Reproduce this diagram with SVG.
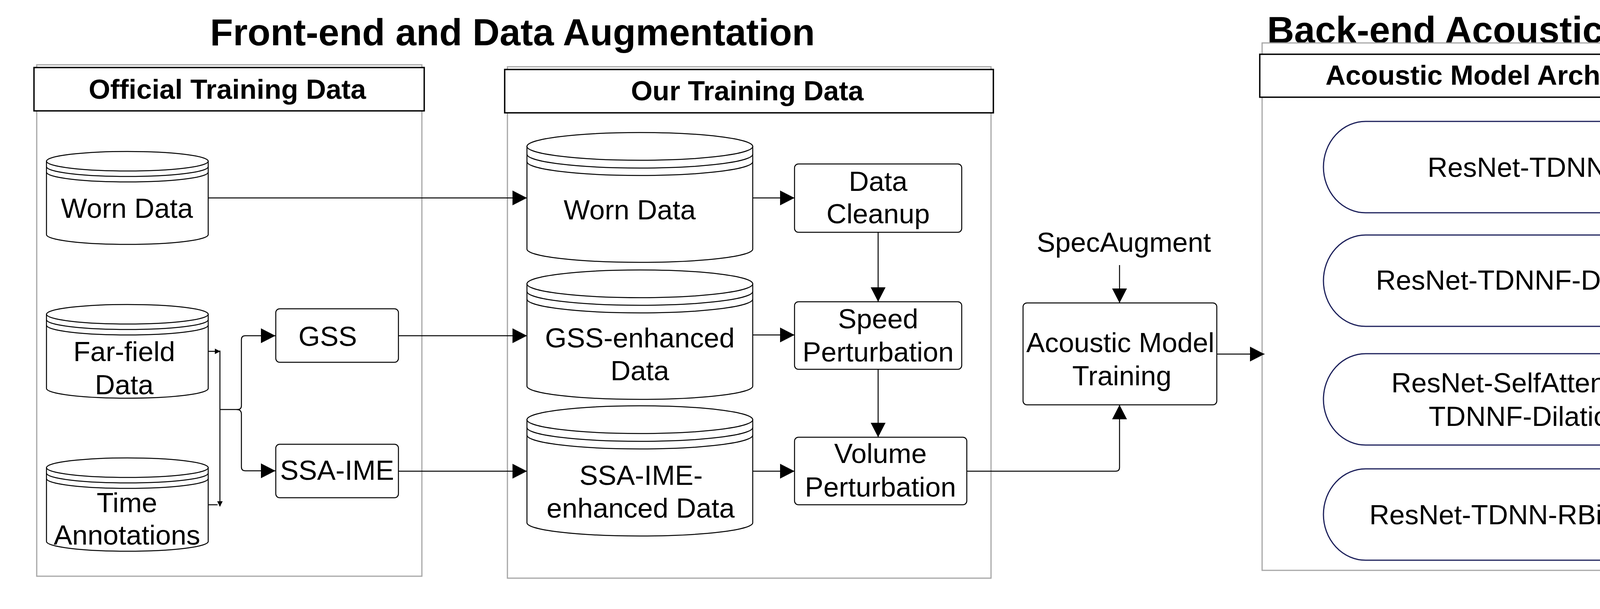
<svg xmlns="http://www.w3.org/2000/svg" width="4660" height="1560" viewBox="0 0 4660 1560">
<style>
.bg{fill:#ffffff}
.panel{fill:none;stroke:#a6a6a6;stroke-width:3}
.hdr{fill:#ffffff;stroke:#000;stroke-width:3.5}
.box{fill:#ffffff;stroke:#000;stroke-width:2.5}
.cyl{fill:#ffffff;stroke:#000;stroke-width:2.5}
.cl{fill:none;stroke:#000;stroke-width:2.5}
.stad{fill:#ffffff;stroke:#1b1f5a;stroke-width:3}
.edge{fill:none;stroke:#000;stroke-width:2.5}
.title{font-family:"Liberation Sans",Arial,sans-serif;font-weight:bold;font-size:96px;fill:#000;text-anchor:middle}
.htxt{font-family:"Liberation Sans",Arial,sans-serif;font-weight:bold;font-size:71px;fill:#000;text-anchor:middle}
.txt{font-family:"Liberation Sans",Arial,sans-serif;font-size:71px;fill:#000;text-anchor:middle}
</style>
<defs>
<marker id="big" markerUnits="userSpaceOnUse" markerWidth="38" markerHeight="40" refX="37" refY="19" orient="auto">
<path d="M0,0 L37,19 L0,38 Z" fill="#000"/>
</marker>
<marker id="small" markerUnits="userSpaceOnUse" markerWidth="16" markerHeight="16" refX="13" refY="7" orient="auto">
<path d="M0,0 L14,7 L0,14 Z" fill="#000"/>
</marker>
</defs>
<rect class="bg" x="0" y="0" width="4660" height="1560"/>

<g id="titles">
<text class="title" x="1312" y="116">Front-end and Data Augmentation</text>
<text class="title" x="3898" y="110">Back-end Acoustic Modeling</text>
</g>

<g id="panel-official">
<rect class="panel" x="94" y="166" width="986" height="1310"/>
<rect class="hdr" x="87" y="173" width="999" height="111"/>
<text class="htxt" x="582" y="253">Official Training Data</text>
</g>
<g id="panel-our">
<rect class="panel" x="1299" y="171" width="1238" height="1310"/>
<rect class="hdr" x="1292" y="178" width="1251" height="111"/>
<text class="htxt" x="1913" y="257">Our Training Data</text>
</g>
<g id="panel-backend">
<rect class="panel" x="3231" y="110" width="1331" height="1351"/>
<rect class="hdr" x="3225" y="139" width="1344" height="110"/>
<text class="htxt" x="3893" y="217">Acoustic Model Architectures</text>
</g>

<g id="connectors">
<path class="edge" d="M533,507 H1349" marker-end="url(#big)"/>
<path class="edge" d="M533,900 H563" marker-end="url(#small)"/>
<path class="edge" d="M563,898 V1297" marker-end="url(#small)"/>
<path class="edge" d="M533,1293 H557"/>
<path class="edge" d="M563,1049 H608 Q618,1049 618,1039 V870 Q618,860 628,860 H705" marker-end="url(#big)"/>
<path class="edge" d="M606,1049 Q618,1049 618,1061 V1196 Q618,1206 628,1206 H705" marker-end="url(#big)"/>
<path class="edge" d="M1020,860 H1349" marker-end="url(#big)"/>
<path class="edge" d="M1020,1207 H1349" marker-end="url(#big)"/>
<path class="edge" d="M1927,507 H2034" marker-end="url(#big)"/>
<path class="edge" d="M1927,858 H2034" marker-end="url(#big)"/>
<path class="edge" d="M1927,1207 H2034" marker-end="url(#big)"/>
<path class="edge" d="M2248,595 V773" marker-end="url(#big)"/>
<path class="edge" d="M2248,946 V1120" marker-end="url(#big)"/>
<path class="edge" d="M2475,1207 H2856 Q2866,1207 2866,1197 V1037" marker-end="url(#big)"/>
<path class="edge" d="M2866,679 V776" marker-end="url(#big)"/>
<path class="edge" d="M3115,907 H3237" marker-end="url(#big)"/>
</g>

<g id="worn-official">
<path class="cyl" d="M119,413 V601 A207,25 0 0 0 533,601 V413 Z"/>
<ellipse class="cyl" cx="326" cy="413" rx="207" ry="25"/>
<path class="cl" d="M119,427 A207,25 0 0 0 533,427 M119,441 A207,25 0 0 0 533,441"/>
<text class="txt" x="325" y="558">Worn Data</text>
</g>
<g id="farfield">
<path class="cyl" d="M119,805 V995 A207,25 0 0 0 533,995 V805 Z"/>
<ellipse class="cyl" cx="326" cy="805" rx="207" ry="25"/>
<path class="cl" d="M119,819 A207,25 0 0 0 533,819 M119,833 A207,25 0 0 0 533,833"/>
<text class="txt" x="318" y="925">Far-field</text>
<text class="txt" x="318" y="1010">Data</text>
</g>
<g id="time-annotations">
<path class="cyl" d="M119,1198 V1387 A207,25 0 0 0 533,1387 V1198 Z"/>
<ellipse class="cyl" cx="326" cy="1198" rx="207" ry="25"/>
<path class="cl" d="M119,1212 A207,25 0 0 0 533,1212 M119,1226 A207,25 0 0 0 533,1226"/>
<text class="txt" x="325" y="1312">Time</text>
<text class="txt" x="325" y="1395">Annotations</text>
</g>
<g id="gss">
<rect class="box" x="706" y="791" width="314" height="137" rx="10"/>
<text class="txt" x="839" y="886">GSS</text>
</g>
<g id="ssa-ime">
<rect class="box" x="706" y="1138" width="314" height="137" rx="10"/>
<text class="txt" x="863" y="1229">SSA-IME</text>
</g>

<g id="worn-our">
<path class="cyl" d="M1349,375 V638 A289,34 0 0 0 1927,638 V375 Z"/>
<ellipse class="cyl" cx="1638" cy="375" rx="289" ry="35.5"/>
<path class="cl" d="M1349,395 A289,35.5 0 0 0 1927,395 M1349,414 A289,35.5 0 0 0 1927,414"/>
<text class="txt" x="1612" y="562">Worn Data</text>
</g>
<g id="gss-enhanced">
<path class="cyl" d="M1349,727 V989 A289,34 0 0 0 1927,989 V727 Z"/>
<ellipse class="cyl" cx="1638" cy="727" rx="289" ry="35.5"/>
<path class="cl" d="M1349,746.5 A289,35.5 0 0 0 1927,746.5 M1349,766 A289,35.5 0 0 0 1927,766"/>
<text class="txt" x="1638" y="890">GSS-enhanced</text>
<text class="txt" x="1638" y="974">Data</text>
</g>
<g id="ssa-ime-enhanced">
<path class="cyl" d="M1349,1075 V1339 A289,34 0 0 0 1927,1339 V1075 Z"/>
<ellipse class="cyl" cx="1638" cy="1075" rx="289" ry="35.5"/>
<path class="cl" d="M1349,1095 A289,35.5 0 0 0 1927,1095 M1349,1114.5 A289,35.5 0 0 0 1927,1114.5"/>
<text class="txt" x="1641" y="1242">SSA-IME-</text>
<text class="txt" x="1640" y="1326">enhanced Data</text>
</g>
<g id="data-cleanup">
<rect class="box" x="2034" y="420" width="428" height="175" rx="10"/>
<text class="txt" x="2248" y="489">Data</text>
<text class="txt" x="2248" y="572">Cleanup</text>
</g>
<g id="speed-perturbation">
<rect class="box" x="2034" y="773" width="428" height="173" rx="10"/>
<text class="txt" x="2248" y="841">Speed</text>
<text class="txt" x="2248" y="926">Perturbation</text>
</g>
<g id="volume-perturbation">
<rect class="box" x="2034" y="1120" width="441" height="173" rx="10"/>
<text class="txt" x="2254" y="1186">Volume</text>
<text class="txt" x="2254" y="1272">Perturbation</text>
</g>

<g id="specaugment">
<text class="txt" x="2877" y="645">SpecAugment</text>
</g>
<g id="acoustic-model-training">
<rect class="box" x="2619" y="776" width="496" height="261" rx="10"/>
<text class="txt" x="2868" y="902">Acoustic Model</text>
<text class="txt" x="2872" y="987">Training</text>
</g>

<g id="resnet-tdnnf">
<rect class="stad" x="3388" y="311" width="1034" height="234" rx="108" ry="117"/>
<text class="txt" x="3905" y="453">ResNet-TDNNF</text>
</g>
<g id="resnet-tdnnf-dilation">
<rect class="stad" x="3388" y="602" width="1034" height="234" rx="108" ry="117"/>
<text class="txt" x="3903" y="742">ResNet-TDNNF-Dilation</text>
</g>
<g id="resnet-selfattention">
<rect class="stad" x="3388" y="906" width="1034" height="234" rx="108" ry="117"/>
<text class="txt" x="3905" y="1005">ResNet-SelfAttention-</text>
<text class="txt" x="3908" y="1091">TDNNF-Dilation</text>
</g>
<g id="resnet-tdnn-rbilstm">
<rect class="stad" x="3388" y="1201" width="1034" height="234" rx="108" ry="117"/>
<text class="txt" x="3898" y="1343">ResNet-TDNN-RBiLSTM</text>
</g>
</svg>
